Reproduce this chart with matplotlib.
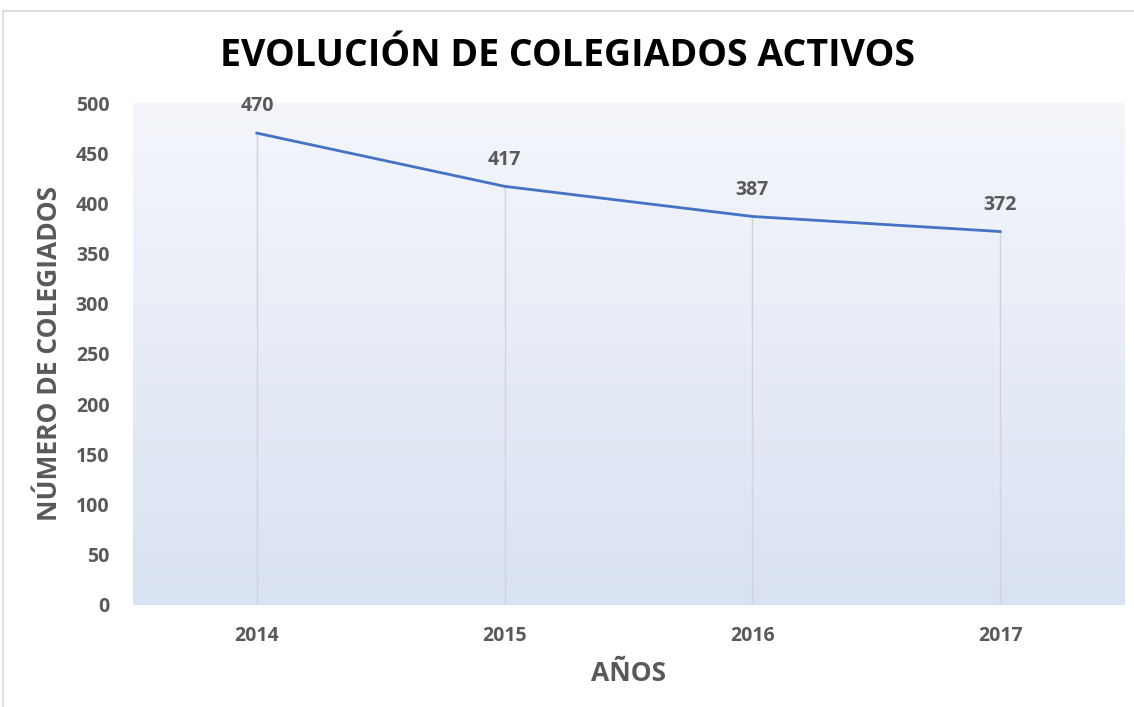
import numpy as np
import matplotlib.pyplot as plt
from matplotlib.lines import Line2D

# Data
years = ["2014", "2015", "2016", "2017"]
colegiados = [470, 417, 387, 372]
y_ticks = [0, 50, 100, 150, 200, 250, 300, 350, 400, 450, 500]

plt.rcParams["font.family"] = ["Open Sans", "DejaVu Sans"]

fig = plt.figure(figsize=(11.34, 7.07), dpi=100)
fig.patch.set_facecolor("white")

ax = fig.add_axes([0.1173, 0.1443, 0.8739, 0.7100])

x = np.arange(len(years))
ax.set_xlim(-0.5, len(years) - 0.5)
ax.set_ylim(0, 500)

# gradient background of plot area
grad = np.linspace(0, 1, 256).reshape(-1, 1)
top_col = np.array([0xf4, 0xf6, 0xfb]) / 255
bot_col = np.array([0xd9, 0xe2, 0xf2]) / 255
img = bot_col + (top_col - bot_col) * grad[..., None]
ax.imshow(img, extent=[-0.5, len(years) - 0.5, 0, 500], origin="lower",
          aspect="auto", zorder=0)

# drop lines
ax.vlines(x, 0, colegiados, color="#cfd3da", linewidth=1, zorder=1)

# main line
ax.plot(x, colegiados, color="#4472c4", linewidth=2, zorder=3)

# data labels
for xi, v in zip(x, colegiados):
    ax.annotate(str(v), (xi, v), xytext=(0, 12), textcoords="offset points",
                ha="center", va="bottom", fontsize=14, fontweight="bold",
                color="#595959")

ax.set_xticks(x)
ax.set_xticklabels(years)
ax.set_yticks(y_ticks)
ax.tick_params(axis="both", length=0, labelsize=14, colors="#595959")
ax.tick_params(axis="x", pad=15)
ax.tick_params(axis="y", pad=17)
for lbl in ax.get_xticklabels() + ax.get_yticklabels():
    lbl.set_fontweight("bold")

for s in ax.spines.values():
    s.set_visible(False)

ax.set_xlabel("AÑOS", fontsize=19, fontweight="bold", color="#595959",
              labelpad=10)
ax.set_ylabel("NÚMERO DE COLEGIADOS", fontsize=19, fontweight="bold",
              color="#595959", labelpad=9)

fig.suptitle("EVOLUCIÓN DE COLEGIADOS ACTIVOS", fontsize=27,
             fontweight="bold", color="black", y=0.948)

# chart frame
fig.add_artist(Line2D([3 / 1134, 1], [1 - 11 / 707, 1 - 11 / 707],
                      transform=fig.transFigure, color="#d9d9d9", linewidth=1.2))
fig.add_artist(Line2D([3 / 1134, 3 / 1134], [0, 1 - 11 / 707],
                      transform=fig.transFigure, color="#d9d9d9", linewidth=1.2))

fig.savefig("out.png", dpi=100)
